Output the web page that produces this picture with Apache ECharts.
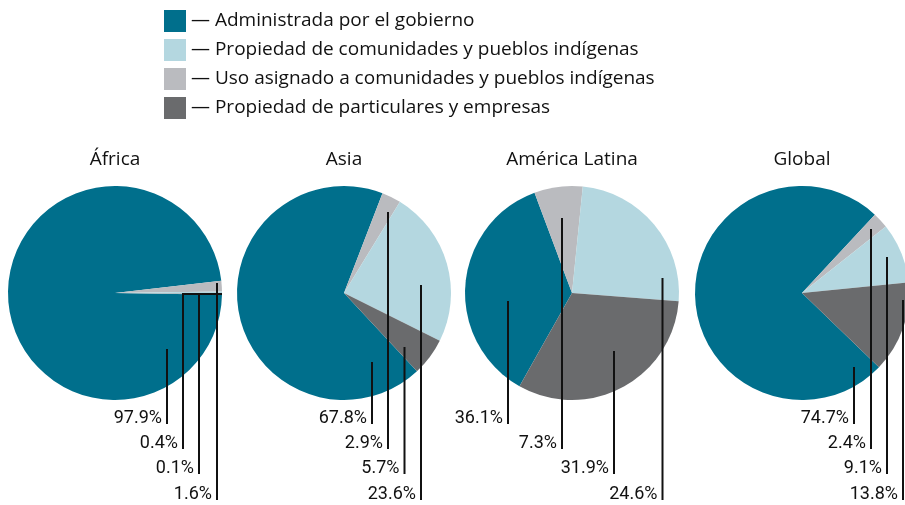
<!DOCTYPE html>
<html>
<head>
<meta charset="utf-8">
<script src="https://cdn.jsdelivr.net/npm/echarts@6/dist/echarts.min.js"></script>
<style>
  html, body { margin: 0; padding: 0; background: #fff; }
  #chart { width: 905px; height: 505px; }
</style>
</head>
<body>
<div id="chart"></div>
<script>
// regions (one pie each)
const regions = ['África', 'Asia', 'América Latina', 'Global'];

// categories, in the order the slices are drawn (clockwise)
const categories = [
  'Administrada por el gobierno',
  'Uso asignado a comunidades y pueblos indígenas',
  'Propiedad de comunidades y pueblos indígenas',
  'Propiedad de particulares y empresas'
];
// legend order
const legendOrder = [
  'Administrada por el gobierno',
  'Propiedad de comunidades y pueblos indígenas',
  'Uso asignado a comunidades y pueblos indígenas',
  'Propiedad de particulares y empresas'
];

// values per region (%)
const administrada = [97.9, 67.8, 36.1, 74.7];
const usoAsignado = [1.6, 2.9, 7.3, 2.4];
const propComunidades = [0.4, 23.6, 24.6, 9.1];
const particulares = [0.1, 5.7, 31.9, 13.8];

const colors = ['#006f8c', '#babbbf', '#b4d7e0', '#6a6b6d'];

// layout
const centersX = [115, 344, 572, 802];
const centerY = 293;
const radius = 107;
const startAngles = [359, 313, 240.6, 316];
const rowBottoms = [424, 449, 474, 500];
// leader line per slice: [x offset from centre, top y, label row]
const leaders = [
  [[52, 349, 0], [102, 283, 3], [68, 294, 1], [84, 293, 2]],
  [[28, 362, 0], [44, 212, 1], [77, 285, 3], [60.5, 347, 2]],
  [[-64, 301, 0], [-10, 218, 1], [90.5, 278, 3], [42, 351, 2]],
  [[52, 367, 0], [69, 229, 1], [85, 257, 2], [101, 300, 3]]
];

const chart = echarts.init(document.getElementById('chart'));

const pieData = (i, transparent) => {
  const values = [administrada[i], usoAsignado[i], propComunidades[i], particulares[i]];
  return categories.map((c, k) => ({
    name: c,
    value: values[k],
    itemStyle: { color: transparent ? 'rgba(0,0,0,0)' : colors[k] }
  }));
};

const series = [];
// visible pies
regions.forEach((region, i) => {
  series.push({
    name: region,
    type: 'pie',
    z: 2,
    center: [centersX[i], centerY],
    radius: [0, radius],
    startAngle: startAngles[i],
    clockwise: true,
    animation: false,
    silent: true,
    itemStyle: { borderWidth: 0 },
    label: { show: false },
    labelLine: { show: false },
    data: pieData(i, false)
  });
});
// same pies, transparent, on top: they carry the labels and leader lines
regions.forEach((region, i) => {
  series.push({
    name: region + ' etiquetas',
    type: 'pie',
    z: 5,
    center: [centersX[i], centerY],
    radius: [0, radius],
    startAngle: startAngles[i],
    clockwise: true,
    avoidLabelOverlap: false,
    animation: false,
    silent: true,
    itemStyle: { borderWidth: 0 },
    label: {
      show: true,
      position: 'outside',
      color: '#111',
      fontFamily: 'Roboto, sans-serif',
      fontSize: 18,
      formatter: p => p.value.toFixed(1) + '%'
    },
    labelLine: {
      show: true,
      lineStyle: { color: '#111', width: 2 }
    },
    labelLayout: p => {
      const l = leaders[i][p.dataIndex];
      const x = centersX[i] + l[0];
      const bottom = rowBottoms[l[2]];
      const pts = [[x, l[1]], [x, l[1]], [x, bottom]];
      if (i === 0 && p.dataIndex === 2) {
        pts[0] = [centersX[i] + radius, l[1]];
      }
      return {
        x: x - 5,
        y: bottom - 6,
        align: 'right',
        verticalAlign: 'middle',
        labelLinePoints: pts
      };
    },
    data: pieData(i, true)
  });
});

chart.setOption({
  animation: false,
  color: colors,
  title: regions.map((r, i) => ({
    text: r,
    left: centersX[i],
    top: 150,
    textAlign: 'center',
    padding: 0,
    textStyle: {
      fontFamily: '"Open Sans", sans-serif',
      fontSize: 19,
      fontWeight: 'normal',
      color: '#111'
    }
  })),
  legend: {
    data: legendOrder.map(n => ({ name: n, itemStyle: { color: colors[categories.indexOf(n)] } })),
    orient: 'vertical',
    left: 164,
    top: 10,
    padding: 0,
    icon: 'rect',
    itemWidth: 22,
    itemHeight: 22,
    itemGap: 7,
    selectedMode: false,
    formatter: n => '— ' + n,
    textStyle: {
      fontFamily: '"Open Sans", sans-serif',
      fontSize: 19,
      color: '#111'
    }
  },
  series: series
});
</script>
</body>
</html>
